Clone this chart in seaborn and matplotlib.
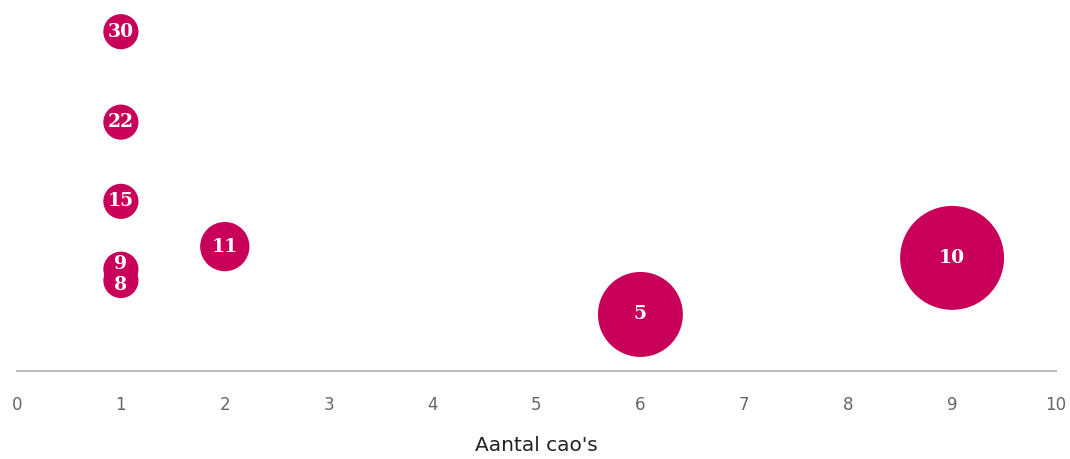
import pandas as pd
import matplotlib
matplotlib.use("Agg")
import matplotlib.pyplot as plt
import seaborn as sns

# Gegevens uit de grafiek
aantal_caos = [1, 1, 1, 1, 1, 2, 6, 9]
waarde = [30, 22, 15, 9, 8, 11, 5, 10]
labels = ["30", "22", "15", "9", "8", "11", "5", "10"]

df = pd.DataFrame({"x": aantal_caos, "y": waarde, "label": labels})

sns.set_theme(style="white")
plt.rcParams["font.family"] = ["DejaVu Sans"]

fig = plt.figure(figsize=(10.7, 4.59), dpi=100)
ax = fig.add_axes([17 / 1070, 88 / 459, 1039 / 1070, 371 / 459])

kleur = "#C8005A"
sns.scatterplot(data=df, x="x", y="y", size="x", sizes=(640, 5600), size_norm=(1, 9),
                color=kleur, edgecolor="none", alpha=1, legend=False, ax=ax, clip_on=False)

# labels van 9 en 8 iets uit elkaar schuiven zodat ze leesbaar blijven
verschuiving = {"9": 3.5, "8": -3.5}
for _, rij in df.iterrows():
    ax.annotate(rij["label"], (rij["x"], rij["y"]),
                xytext=(0, verschuiving.get(rij["label"], 0)), textcoords="offset points",
                ha="center", va="center", color="white", fontsize=13.5,
                fontweight="bold", family="DejaVu Serif")

ax.set_xlim(0, 10)
ax.set_ylim(0, 32.8)
ax.set_xticks(range(0, 11))
ax.set_yticks([])
ax.tick_params(axis="x", length=0, pad=18, labelsize=12, labelcolor="#666666")
ax.set_xlabel("Aantal cao's", fontsize=14.5, color="#222222", labelpad=16)
ax.set_ylabel("")
for kant in ["top", "right", "left"]:
    ax.spines[kant].set_visible(False)
ax.spines["bottom"].set_color("#BBBBBB")
ax.spines["bottom"].set_linewidth(1.5)

fig.savefig("out.png", dpi=100)
